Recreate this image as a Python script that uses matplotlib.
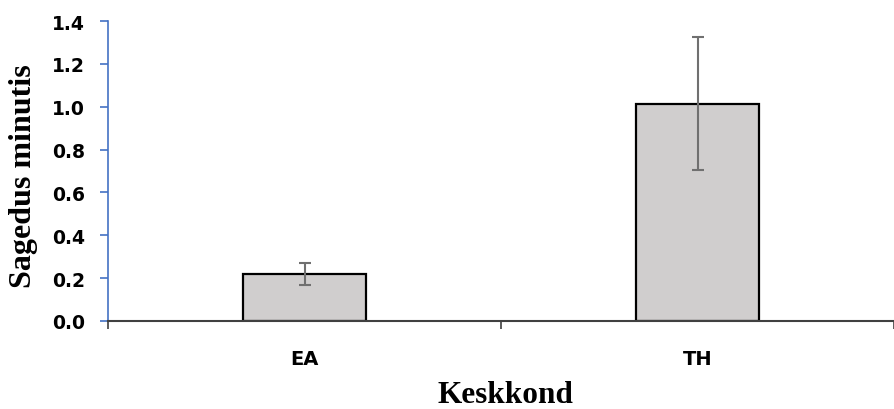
import matplotlib.pyplot as plt
import numpy as np

categories = ['EA', 'TH']
values = [0.22, 1.015]
errors = [0.05, 0.31]
yticks = [0.0, 0.2, 0.4, 0.6, 0.8, 1.0, 1.2, 1.4]

fig = plt.figure(figsize=(8.94, 4.10), dpi=100)
ax = fig.add_axes([108/894, 88/410, 1 - 108/894, 300/410])

x = np.arange(len(categories))
ax.bar(x, values, width=0.313, color='#D0CECE', edgecolor='black', linewidth=1.6, zorder=2)
ax.errorbar(x, values, yerr=errors, fmt='none', ecolor='#707070', elinewidth=1.5,
            capsize=4.5, capthick=1.5, zorder=3)

ax.set_xlim(-0.5, 1.475)
ax.set_ylim(0, 1.4)
ax.set_yticks(yticks)
ax.set_yticklabels(['%.1f' % v for v in yticks], fontsize=13.5, fontweight='bold')

# ticks between categories, labels centred under bars
ax.set_xticks([-0.5, 0.5, 1.5])
ax.set_xticklabels([])
ax.set_xticks(x, minor=True)
ax.set_xticklabels(categories, minor=True, fontsize=14, fontweight='bold')
ax.tick_params(axis='x', which='major', length=5.8, width=1.2, color='#404040', direction='out')
ax.tick_params(axis='x', which='minor', length=0, pad=20)
ax.tick_params(axis='y', length=5.8, width=1.2, color='#4472C4', direction='out', pad=11)

for s in ['top', 'right']:
    ax.spines[s].set_visible(False)
ax.spines['left'].set_color('#4472C4')
ax.spines['left'].set_linewidth(1.2)
ax.spines['bottom'].set_color('#404040')
ax.spines['bottom'].set_linewidth(1.5)

fig.text(24/894, 1 - 176/410, 'Sagedus minutis', rotation=90, ha='center', va='center',
         fontsize=23, fontweight='bold', family='Liberation Serif')
fig.text(505/894, 7/410, 'Keskkond', ha='center', va='baseline',
         fontsize=22.5, fontweight='bold', family='Liberation Serif')

fig.savefig('out.png', dpi=100)
